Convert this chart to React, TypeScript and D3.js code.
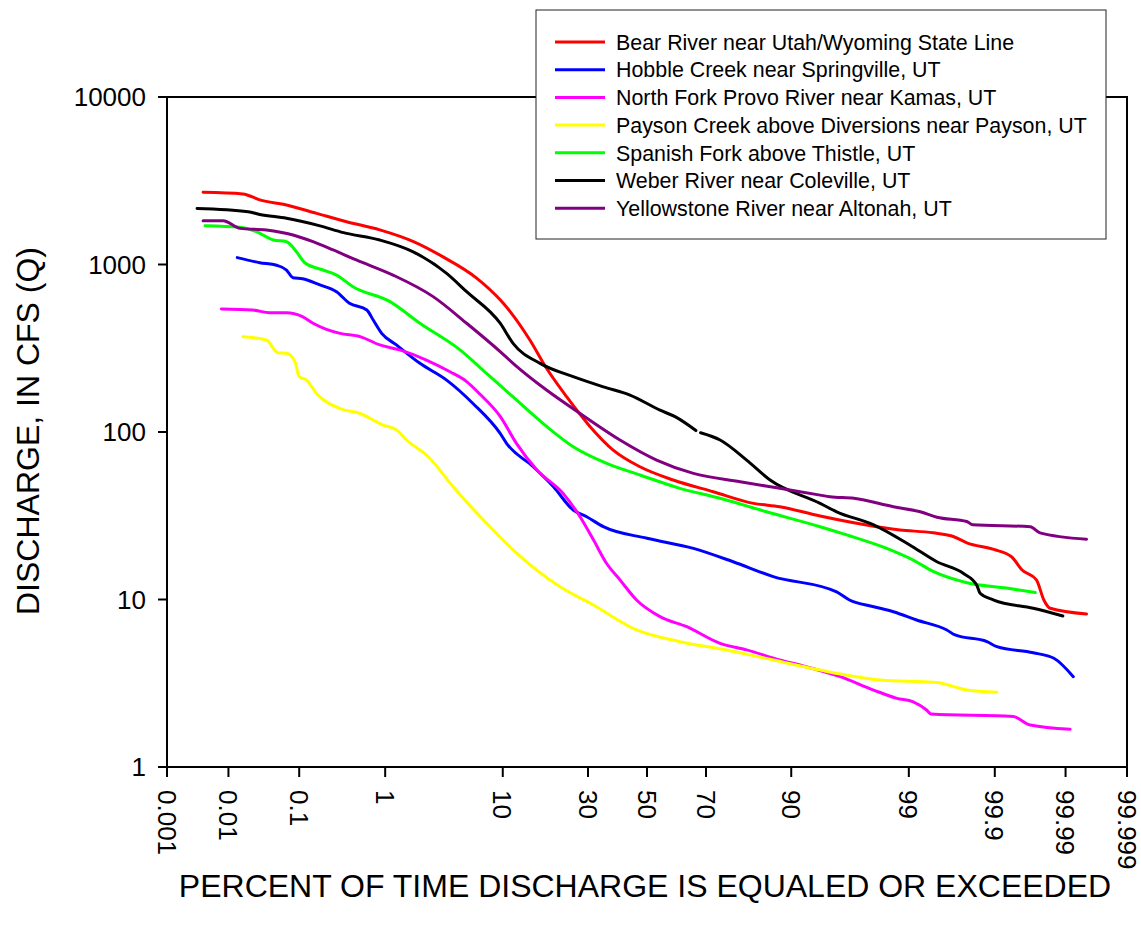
import React from "react";
import * as d3 from "d3";

// Flow-duration data: [percent of time exceeded, discharge in cfs]
const bearRiver: [number, number | null][] = [
  [0.004, 2700], [0.0165, 2640], [0.029, 2430], [0.068, 2265], [0.166, 2020], [0.38, 1800],
  [0.88, 1610], [1.9, 1370], [3.5, 1110], [6.5, 830], [9.6, 615], [11.2, 523], [14.9, 354],
  [18.6, 240], [23.8, 162], [30.6, 108], [38.2, 78], [47.5, 62], [59.2, 51.7], [72.2, 44],
  [82.8, 37.5], [88.1, 35.8], [93.8, 31.5], [98.77, 26], [99.45, 25], [99.68, 23.7],
  [99.776, 21.8], [99.897, 19.9], [99.94, 18], [99.957, 15], [99.973, 13.1], [99.979, 9.9],
  [99.983, 8.86], [99.9953, 8.2],
];

const hobbleCreek: [number, number | null][] = [
  [0.0136, 1099], [0.029, 1025], [0.05, 989], [0.068, 927], [0.083, 834], [0.11, 822],
  [0.183, 755], [0.29, 688], [0.41, 587], [0.64, 535], [0.75, 466], [0.92, 388], [1.3, 331],
  [2.18, 257], [3.75, 204], [6.1, 148], [9.6, 98], [10.6, 85.6], [15.6, 62], [20.3, 47.1],
  [25.6, 34.2], [29.6, 31.2], [34.9, 27.2], [50, 23.2], [66, 20.2], [77.8, 16.8], [86.9, 13.7],
  [95.4, 11.1], [96.4, 9.93], [97.8, 9.06], [98.57, 8.45], [99.17, 7.54], [99.614, 6.58],
  [99.69, 6.14], [99.874, 5.6], [99.906, 5.23], [99.97, 4.81], [99.985, 4.46], [99.9924, 3.46],
];

const northForkProvo: [number, number | null][] = [
  [0.0078, 542], [0.023, 535], [0.04, 515], [0.068, 515], [0.11, 488], [0.15, 446], [0.22, 410],
  [0.32, 388], [0.54, 371], [0.88, 331], [1.4, 309], [2.5, 269], [4, 229], [5.45, 200],
  [6.9, 168], [9.6, 124], [12.3, 85.6], [16.4, 59.3], [22.8, 43], [27.6, 31.2], [31.7, 22.7],
  [36, 16.4], [40.5, 13.1], [46.3, 9.93], [54.6, 7.9], [63.8, 6.88], [74.2, 5.47], [81.2, 5.0],
  [88.1, 4.35], [91.3, 4.06], [95.7, 3.46], [97.8, 2.88], [98.68, 2.57], [99.1, 2.45],
  [99.35, 2.19], [99.42, 2.07], [99.943, 2.0], [99.967, 1.78], [99.9915, 1.68],
];

const paysonCreek: [number, number | null][] = [
  [0.0165, 371], [0.036, 354], [0.052, 297], [0.068, 295], [0.088, 263], [0.1, 214], [0.124, 204],
  [0.166, 170], [0.32, 138], [0.54, 129], [0.95, 110], [1.3, 103], [1.63, 89.6], [2.6, 71.2],
  [4.25, 47.1], [7.7, 28.5], [11.7, 19.8], [22, 11.9], [31.7, 9.27], [46.3, 6.58], [61.5, 5.6],
  [76, 5.0], [86.9, 4.35], [93.8, 3.79], [98.08, 3.31], [99.5, 3.19], [99.68, 3.02],
  [99.776, 2.88], [99.906, 2.79],
];

const spanishFork: [number, number | null][] = [
  [0.0043, 1705], [0.0149, 1668], [0.026, 1570], [0.045, 1400], [0.068, 1368], [0.092, 1192],
  [0.118, 1025], [0.2, 927], [0.29, 865], [0.45, 737], [1.12, 600], [2.18, 446], [4.83, 309],
  [7.7, 224], [11.7, 162], [18.6, 108], [25.6, 81.7], [36, 65], [47.5, 55.4], [61.5, 46.1],
  [74.2, 40.2], [85.6, 33.4], [93.8, 27.2], [96.2, 24.3], [98.34, 20.2], [99.1, 17.2],
  [99.45, 14.7], [99.776, 12.6], [99.93, 11.7], [99.972, 11.0],
];

// null marks a break in the record
const weberRiver: [number, number | null][] = [
  [0.0032, 2160], [0.0197, 2065], [0.029, 1990], [0.068, 1886], [0.183, 1700], [0.35, 1550],
  [0.88, 1400], [1.89, 1190], [3.75, 885], [5.45, 688], [9.6, 446], [11.7, 338], [17.1, 257],
  [25.6, 214], [34.9, 186], [44, 166], [54.6, 135], [60, 123], [66.8, 102], [67.5, null],
  [68.3, 99], [74.2, 89.6], [81.2, 68], [86.3, 51.7], [93.8, 37.5], [95.4, 33.4], [97.8, 27.9],
  [99.03, 21.1], [99.5, 16.8], [99.754, 14.3], [99.83, 12.2], [99.846, 10.9], [99.897, 9.93],
  [99.97, 8.86], [99.989, 7.97],
];

const yellowstoneRiver: [number, number | null][] = [
  [0.004, 1827], [0.0083, 1827], [0.0149, 1643], [0.036, 1607], [0.083, 1500], [0.15, 1368],
  [0.265, 1221], [0.49, 1064], [1.2, 865], [2.87, 643], [5.45, 446], [9.6, 302], [11.7, 257],
  [18.6, 178], [27.6, 129], [40.5, 89.6], [53.4, 68], [66, 56.6], [79.6, 50.5], [88.1, 46.1],
  [93.8, 42], [94.8, 41.1], [96.7, 40.2], [98.57, 35.8], [99.24, 33.4], [99.5, 31],
  [99.776, 29.2], [99.81, 27.9], [99.967, 27.2], [99.976, 25], [99.9953, 22.9],
];

const seriesNames = [
  "Bear River near Utah/Wyoming State Line",
  "Hobble Creek near Springville, UT",
  "North Fork Provo River near Kamas, UT",
  "Payson Creek above Diversions near Payson, UT",
  "Spanish Fork above Thistle, UT",
  "Weber River near Coleville, UT",
  "Yellowstone River near Altonah, UT",
];
const seriesColors = ["#ff0000", "#0000ff", "#ff00ff", "#ffff00", "#00ff00", "#000000", "#800080"];
const seriesData = [bearRiver, hobbleCreek, northForkProvo, paysonCreek, spanishFork, weberRiver, yellowstoneRiver];

const xTicks = [0.001, 0.01, 0.1, 1, 10, 30, 50, 70, 90, 99, 99.9, 99.99, 99.999];
const xTickLabels = ["0.001", "0.01", "0.1", "1", "10", "30", "50", "70", "90", "99", "99.9", "99.99", "99.999"];
const yTicks = [1, 10, 100, 1000, 10000];

// Inverse standard normal CDF (Acklam's rational approximation)
function probit(p: number): number {
  const a = [-3.969683028665376e1, 2.209460984245205e2, -2.759285104469687e2, 1.38357751867269e2, -3.066479806614716e1, 2.506628277459239];
  const b = [-5.447609879822406e1, 1.615858368580409e2, -1.556989798598866e2, 6.680131188771972e1, -1.328068155288572e1];
  const c = [-7.784894002430293e-3, -3.223964580411365e-1, -2.400758277161838, -2.549732539343734, 4.374664141464968, 2.938163982698783];
  const d = [7.784695709041462e-3, 3.224671290700398e-1, 2.445134137142996, 3.754408661907416];
  const plow = 0.02425;
  if (p < plow) {
    const q = Math.sqrt(-2 * Math.log(p));
    return (((((c[0] * q + c[1]) * q + c[2]) * q + c[3]) * q + c[4]) * q + c[5]) / ((((d[0] * q + d[1]) * q + d[2]) * q + d[3]) * q + 1);
  }
  if (p <= 1 - plow) {
    const q = p - 0.5;
    const r = q * q;
    return ((((((a[0] * r + a[1]) * r + a[2]) * r + a[3]) * r + a[4]) * r + a[5]) * q) / (((((b[0] * r + b[1]) * r + b[2]) * r + b[3]) * r + b[4]) * r + 1);
  }
  const q = Math.sqrt(-2 * Math.log(1 - p));
  return -(((((c[0] * q + c[1]) * q + c[2]) * q + c[3]) * q + c[4]) * q + c[5]) / ((((d[0] * q + d[1]) * q + d[2]) * q + d[3]) * q + 1);
}

const W = 1141;
const H = 932;
const left = 167, right = 1127, top = 97, bottom = 767;

// probability axis: linear in the standard normal quantile
const zScale = d3.scaleLinear().domain([probit(0.00001), probit(0.99999)]).range([left, right]);
const xPos = (pct: number) => zScale(probit(pct / 100));
const yScale = d3.scaleLog().domain([1, 10000]).range([bottom, top]);

const line = d3
  .line<[number, number | null]>()
  .defined((d) => d[1] != null)
  .curve(d3.curveMonotoneX)
  .x((d) => xPos(d[0]))
  .y((d) => yScale(d[1] as number));

const FONT = "Arial, 'Liberation Sans', Helvetica, sans-serif";

export default function App() {
  const legendX = 536, legendY = 10, legendW = 570, legendH = 229;
  return (
    <svg width={W} height={H} style={{ position: "absolute", left: 0, top: 0, background: "#fff" }} fontFamily={FONT}>
      <rect x={0} y={0} width={W} height={H} fill="#fff" />
      {/* series */}
      {seriesData.map((data, i) => (
        <path key={i} d={line(data) || ""} fill="none" stroke={seriesColors[i]} strokeWidth={3} strokeLinejoin="round" strokeLinecap="round" />
      ))}
      {/* frame */}
      <rect x={left} y={top} width={right - left} height={bottom - top} fill="none" stroke="#000" strokeWidth={2} />
      {/* y axis ticks */}
      {yTicks.map((t) => (
        <g key={t}>
          <line x1={left - 9} x2={left} y1={yScale(t)} y2={yScale(t)} stroke="#000" strokeWidth={2} />
          <text x={146} y={yScale(t)} dy="0.36em" textAnchor="end" fontSize={26} fill="#000">
            {String(t)}
          </text>
        </g>
      ))}
      {/* x axis ticks */}
      {xTicks.map((t, i) => (
        <g key={t}>
          <line x1={xPos(t)} x2={xPos(t)} y1={bottom} y2={bottom + 10} stroke="#000" strokeWidth={2} />
          <text transform={`translate(${xPos(t)},${790}) rotate(90)`} dy="0.36em" textAnchor="start" fontSize={26} fill="#000">
            {xTickLabels[i]}
          </text>
        </g>
      ))}
      {/* axis titles */}
      <text x={645} y={897} textAnchor="middle" fontSize={32} fill="#000">
        PERCENT OF TIME DISCHARGE IS EQUALED OR EXCEEDED
      </text>
      <text transform="translate(39,431) rotate(-90)" textAnchor="middle" fontSize={32} fill="#000">
        DISCHARGE, IN CFS (Q)
      </text>
      {/* legend */}
      <rect x={legendX} y={legendY} width={legendW} height={legendH} fill="#fff" stroke="#222" strokeWidth={1} />
      {seriesNames.map((name, i) => {
        const y = 42 + i * 27.7;
        return (
          <g key={name}>
            <line x1={555} x2={605} y1={y} y2={y} stroke={seriesColors[i]} strokeWidth={3} />
            <text x={616} y={y} dy="0.36em" fontSize={21.4} fill="#000">
              {name}
            </text>
          </g>
        );
      })}
    </svg>
  );
}
